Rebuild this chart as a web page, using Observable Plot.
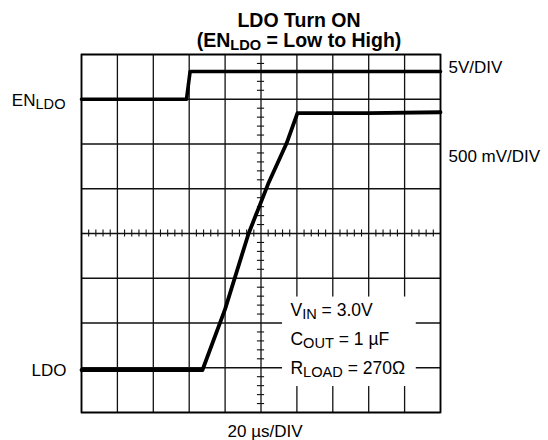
<!DOCTYPE html>
<html>
<head>
<meta charset="utf-8">
<script src="https://cdn.jsdelivr.net/npm/d3@7"></script>
<script src="https://cdn.jsdelivr.net/npm/@observablehq/plot@0.6"></script>
<style>
  html, body { margin: 0; padding: 0; background: #fff; }
  #chart svg { display: block; }
</style>
</head>
<body>
<div id="chart"></div>
<script>
// ---- Data read from the scope capture ----
// EN_LDO channel (5 V/div)
const enTimeUs = [0, 58.5, 60.5, 200];
const enVolts  = [0, 0, 3.1, 3.1];
// LDO output channel (500 mV/div)
const ldoTimeUs = [0, 67.4, 80, 93.0, 104, 114.2, 120.3, 160, 200];
const ldoVolts  = [0, 0, 0.68, 1.52, 2.08, 2.53, 2.87, 2.87, 2.88];
// Scope settings
const timePerDivUs = 20;
const enVoltsPerDiv = 5;
const ldoVoltsPerDiv = 0.5;
const enGroundDiv = 7;
const ldoGroundDiv = 0.95;
const xDivs = 10, yDivs = 8;
// Texts
const titleLines = ["LDO Turn ON", "(EN_{LDO} = Low to High)"];
const conditions = ["V_{IN} = 3.0V", "C_{OUT} = 1 µF", "R_{LOAD} = 270Ω"];

// ---- Derived tables ----
const enData = enTimeUs.map((t, i) => ({t, div: enGroundDiv + enVolts[i] / enVoltsPerDiv}));
const ldoData = ldoTimeUs.map((t, i) => ({t, div: ldoGroundDiv + ldoVolts[i] / ldoVoltsPerDiv}));
const tMax = timePerDivUs * xDivs;
const majorX = d3.range(0, xDivs + 1).map(d => d * timePerDivUs);
const majorY = d3.range(0, yDivs + 1);
const minorX = d3.range(0, xDivs * 5 + 1).map(d => d * timePerDivUs / 5).filter((d, i) => i % 5 !== 0);
const minorY = d3.range(0, yDivs * 5 + 1).map(d => d / 5).filter((d, i) => i % 5 !== 0);
const tCenter = tMax / 2, yCenter = yDivs / 2;

const font = "Liberation Sans, Arial, Helvetica, sans-serif";
const txt = {fill: "#000", fontSize: 17, lineAnchor: "middle"};

const chart = Plot.plot({
  width: 548,
  height: 440,
  marginLeft: 81,
  marginRight: 108,
  marginTop: 54,
  marginBottom: 28,
  style: {fontFamily: font, background: "#fff", color: "#000"},
  x: {domain: [0, tMax], axis: null},
  y: {domain: [0, yDivs], axis: null},
  marks: [
    Plot.ruleX(majorX, {stroke: "#111", strokeWidth: 1.3}),
    Plot.ruleY(majorY, {stroke: "#111", strokeWidth: 1.3}),
    Plot.ruleY(minorY, {x1: tCenter - 2, x2: tCenter + 2, stroke: "#111", strokeWidth: 1.1}),
    Plot.ruleX(minorX, {y1: yCenter - 0.08, y2: yCenter + 0.08, stroke: "#111", strokeWidth: 1.1}),
    Plot.frame({stroke: "#000", strokeWidth: 1.7}),
    // white panel for the test conditions
    Plot.rect([0], {x1: 112, x2: 186.5, y1: 0.58, y2: 2.58, fill: "#fff"}),
    Plot.text(conditions, {...txt, x: 116.4, y: (d, i) => 2.29 - i * 0.65, text: d => d, textAnchor: "start", fontSize: 17.5}),
    // traces
    Plot.line(enData, {x: "t", y: "div", stroke: "#000", strokeWidth: 3.6, strokeLinejoin: "round"}),
    Plot.line(ldoData, {x: "t", y: "div", stroke: "#000", strokeWidth: 3.8, strokeLinejoin: "round"}),
    // channel labels
    Plot.text(["EN_{LDO}"], {...txt, x: 0, y: enGroundDiv, dx: -16, dy: 1, textAnchor: "end"}),
    Plot.text(["LDO"], {...txt, x: 0, y: ldoGroundDiv, dx: -15, dy: 1, textAnchor: "end"}),
    Plot.text(["5V/DIV"], {...txt, x: tMax, y: enGroundDiv + 3.1 / enVoltsPerDiv, dx: 8, dy: -4, textAnchor: "start"}),
    Plot.text(["500 mV/DIV"], {...txt, x: tMax, y: 5.73, dx: 8, textAnchor: "start"}),
    Plot.text(["20 µs/DIV"], {...txt, frameAnchor: "bottom", dx: 4, dy: 19}),
    // title
    Plot.text([titleLines[0]], {...txt, frameAnchor: "top", dx: 38, dy: -33.5, fontSize: 19.5, fontWeight: "bold"}),
    Plot.text([titleLines[1]], {...txt, frameAnchor: "top", dx: 38, dy: -13.5, fontSize: 19.5, fontWeight: "bold"})
  ]
});

// Turn "_{...}" markers into real subscripts
const SVGNS = "http://www.w3.org/2000/svg";
d3.select(chart).selectAll("text").each(function() {
  const tspans = this.querySelectorAll("tspan");
  const nodes = tspans.length ? Array.from(tspans) : [this];
  nodes.forEach(n => {
    const s = n.textContent;
    if (!s.includes("_{")) return;
    const baseSize = parseFloat(this.getAttribute("font-size") || getComputedStyle(this).fontSize) || 17;
    n.textContent = "";
    s.split(/(_\{[^}]*\})/).forEach(p => {
      if (!p) return;
      const sp = document.createElementNS(SVGNS, "tspan");
      if (p.startsWith("_{")) {
        sp.textContent = p.slice(2, -1);
        sp.setAttribute("font-size", (baseSize * 0.86).toFixed(1));
        sp.setAttribute("baseline-shift", "-18%");
      } else {
        sp.textContent = p;
      }
      n.appendChild(sp);
    });
  });
});

document.getElementById("chart").appendChild(chart);
</script>
</body>
</html>
